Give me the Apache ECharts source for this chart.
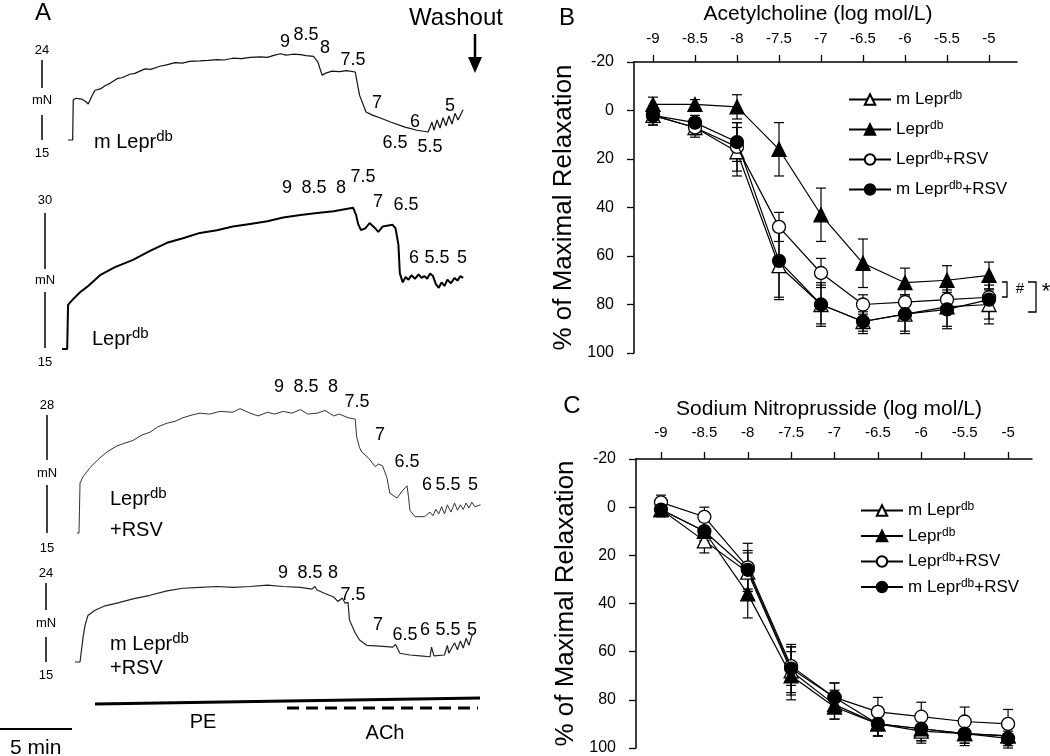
<!DOCTYPE html>
<html>
<head>
<meta charset="utf-8">
<script src="https://cdn.jsdelivr.net/npm/echarts@6/dist/echarts.min.js"></script>
<style>html,body{margin:0;padding:0;background:#fff}#c{width:1050px;height:756px}</style>
</head>
<body>
<div id="c"></div>
<script>
// ---------- DATA ----------
const conc = [-9, -8.5, -8, -7.5, -7, -6.5, -6, -5.5, -5];
const seriesNames = ['m Lepr^db', 'Lepr^db', 'Lepr^db+RSV', 'm Lepr^db+RSV'];

// Panel B: acetylcholine (% of maximal relaxation)
const achMLepr        = [2, 7, 17, 64, 80, 87, 84, 81, 80];
const achMLeprErr     = [4, 3, 10, 14, 8, 5, 7, 8, 8];
const achLepr         = [-2.5, -2.5, -1.5, 16, 43, 63, 71, 70, 68];
const achLeprErr      = [3, 2, 5, 11, 11, 10, 6, 6, 5.5];
const achLeprRSV      = [2, 7, 15, 48, 67, 80, 79, 78, 77];
const achLeprRSVErr   = [3, 4, 10, 6, 6, 4, 3, 3, 3];
const achMLeprRSV     = [2, 5, 13, 62, 80, 87, 84, 82, 78];
const achMLeprRSVErr  = [4, 3, 8, 15, 9, 4, 8, 8, 8];

// Panel C: sodium nitroprusside
const snpMLepr        = [1, 14, 27, 68, 82, 90, 93, 94, 95];
const snpMLeprErr     = [3, 5, 8, 10, 6, 5, 5, 5, 5];
const snpLepr         = [1, 10, 36, 70, 83, 90, 92, 94, 95];
const snpLeprErr      = [2, 4, 10, 10, 5, 5, 5, 4, 4];
const snpLeprRSV      = [-2, 4, 25, 66, 79, 85, 87, 89, 90];
const snpLeprRSVErr   = [3, 4, 10, 8, 6, 6, 6, 6, 6];
const snpMLeprRSV     = [1, 10, 26, 67, 79, 90, 92, 94, 96];
const snpMLeprRSVErr  = [2, 4, 8, 10, 6, 5, 5, 4, 3];

// Panel A: tension traces [time (min), tension (mN)]
const traceMLepr = [[0.56,15.0],[0.88,15.0],[0.92,19.5],[1.1,19.7],[1.5,19.6],[1.8,19.3],[1.96,19.05],[2.2,19.9],[2.43,20.6],[2.8,20.75],[3.13,21.1],[3.5,21.4],[3.96,21.9],[4.3,22.0],[4.86,22.4],[5.2,22.5],[5.9,23.0],[6.3,22.95],[6.94,23.3],[7.4,23.45],[7.99,23.7],[8.5,23.65],[9.0,23.85],[9.72,23.9],[10.3,23.95],[10.9,24.05],[11.4,24.0],[12.0,24.2],[12.6,24.15],[13.2,24.3],[13.9,24.35],[14.4,24.3],[14.9,24.55],[15.3,24.7],[15.7,24.55],[16.2,24.65],[16.7,24.6],[17.1,24.5],[17.6,24.4],[17.9,23.8],[18.2,22.3],[18.5,22.55],[18.9,22.75],[19.4,22.7],[19.9,22.8],[20.5,22.65],[20.8,20.05],[21.25,18.15],[21.7,17.8],[22.2,17.5],[23.0,17.0],[23.96,16.45],[24.8,16.1],[25.56,15.9],[25.83,17.0],[25.97,16.1],[26.18,17.25],[26.39,16.35],[26.6,17.5],[26.8,16.6],[27.01,17.7],[27.22,16.8],[27.43,18.0],[27.64,17.25],[27.99,18.4]];
const traceLepr = [[0.14,15.0],[0.5,15.0],[0.56,19.9],[0.83,20.4],[1.39,21.3],[1.88,21.9],[2.78,23.2],[3.82,24.1],[5.07,24.9],[6.25,25.9],[7.43,26.8],[8.54,27.3],[9.72,27.9],[10.9,28.2],[12.0,28.6],[13.2,28.9],[14.4,29.2],[15.5,29.6],[16.7,29.9],[17.85,30.1],[19.0,30.3],[20.35,30.7],[20.56,29.9],[20.7,28.9],[20.9,28.2],[21.2,28.4],[21.5,29.0],[21.9,28.4],[22.1,28.0],[22.4,28.6],[23.1,28.8],[23.3,28.4],[23.5,26.6],[23.6,23.4],[23.8,22.4],[24.0,23.0],[24.2,22.7],[24.4,23.2],[24.65,22.8],[24.9,23.3],[25.1,22.9],[25.3,23.1],[25.5,22.8],[25.7,23.4],[25.9,23.1],[26.1,22.2],[26.3,21.8],[26.5,22.4],[26.7,22.0],[26.9,22.7],[27.15,22.3],[27.4,22.9],[27.6,22.6],[27.8,23.1],[28.0,22.9]];
const traceLeprRSV = [[1.18,15.0],[1.32,15.0],[1.39,20.5],[1.6,21.2],[2.08,22.2],[2.78,23.3],[3.33,24.0],[3.96,24.6],[4.5,24.9],[5.07,25.2],[5.7,25.8],[6.25,26.1],[6.8,26.7],[7.43,27.1],[7.99,27.3],[8.54,27.7],[9.17,28.0],[9.72,28.2],[10.4,28.1],[11.1,28.4],[12.0,28.3],[12.5,28.7],[13.2,28.2],[13.75,27.9],[14.4,28.3],[14.9,28.1],[15.5,28.4],[16.1,28.2],[16.7,28.6],[17.2,28.1],[17.85,28.2],[18.4,28.5],[19.0,27.9],[19.4,28.1],[20.0,27.7],[20.5,27.55],[20.6,25.6],[20.8,24.4],[20.97,23.9],[21.4,23.3],[21.9,22.3],[22.1,22.6],[22.2,22.8],[22.4,22.4],[22.7,21.1],[22.9,19.4],[23.4,18.85],[23.8,19.7],[24.1,20.2],[24.2,19.0],[24.3,17.5],[24.65,16.8],[25.3,16.8],[25.7,17.3],[25.9,16.9],[26.1,17.6],[26.3,17.1],[26.5,17.9],[26.7,17.1],[26.9,18.1],[27.15,17.3],[27.4,18.3],[27.6,17.5],[27.8,18.1],[28.0,17.6],[28.2,18.3],[28.4,17.75],[28.6,18.4],[28.8,17.9],[29.2,18.1]];
const traceMLeprRSV = [[1.04,15.0],[1.39,15.0],[1.6,17.8],[1.74,19.2],[1.94,20.3],[2.43,20.9],[3.13,21.4],[3.96,21.7],[5.07,22.2],[6.25,22.6],[7.43,23.1],[8.54,23.4],[9.72,23.5],[10.9,23.6],[12.0,23.5],[13.2,23.6],[14.4,23.75],[15.5,23.6],[16.7,23.5],[17.5,23.3],[17.7,23.6],[17.85,23.2],[18.4,22.8],[19.0,22.4],[19.3,21.9],[19.6,22.3],[19.8,21.7],[20.0,21.8],[20.1,19.8],[20.5,18.3],[20.8,17.5],[21.3,16.9],[22.2,16.8],[23.1,16.7],[23.3,17.0],[23.6,16.0],[24.3,15.8],[25.0,15.7],[25.7,15.6],[25.8,16.7],[25.97,15.7],[26.7,15.8],[26.9,16.9],[27.0,16.0],[27.4,17.2],[27.6,16.4],[27.8,17.4],[28.0,16.6],[28.2,17.7],[28.4,16.9],[28.6,18.0],[28.8,18.3]];

// ---------- CHART ----------
const FONT = "'Liberation Sans', Arial, sans-serif";
const NARROW = "'Liberation Sans Narrow', 'Arial Narrow', 'Liberation Sans', sans-serif";
const chart = echarts.init(document.getElementById('c'), null, {renderer: 'canvas'});

const styles = [
  {symbol: 'triangle', filled: false, size: 14},
  {symbol: 'triangle', filled: true, size: 14},
  {symbol: 'circle', filled: false, size: 13},
  {symbol: 'circle', filled: true, size: 13}
];

function pairs(vals) { return conc.map((x, i) => [x, vals[i]]); }
function triples(vals, errs) { return conc.map((x, i) => [x, vals[i], errs[i]]); }

function errRender(params, api) {
  const x = api.value(0), y = api.value(1), e = api.value(2);
  const a = api.coord([x, y - e]), b = api.coord([x, y + e]);
  const hw = 5, st = {stroke: '#000', lineWidth: 1.2};
  return {type: 'group', children: [
    {type: 'line', shape: {x1: a[0], y1: a[1], x2: b[0], y2: b[1]}, style: st},
    {type: 'line', shape: {x1: a[0] - hw, y1: a[1], x2: a[0] + hw, y2: a[1]}, style: st},
    {type: 'line', shape: {x1: b[0] - hw, y1: b[1], x2: b[0] + hw, y2: b[1]}, style: st}
  ]};
}

const series = [];
function addPanel(gridIdx, valsList, errsList) {
  valsList.forEach((vals, k) => {
    series.push({type: 'custom', xAxisIndex: gridIdx, yAxisIndex: gridIdx, data: triples(vals, errsList[k]),
      renderItem: errRender, encode: {x: 0, y: 1}, z: 2, silent: true});
  });
  valsList.forEach((vals, k) => {
    const s = styles[k];
    series.push({type: 'line', name: seriesNames[k], xAxisIndex: gridIdx, yAxisIndex: gridIdx,
      data: pairs(vals), symbol: s.symbol, symbolSize: s.size, showSymbol: true,
      itemStyle: {color: s.filled ? '#000' : '#fff', borderColor: '#000', borderWidth: 1.3},
      lineStyle: {color: '#000', width: 1.2}, z: 3 + k, silent: true});
  });
}
addPanel(0, [achMLepr, achLepr, achLeprRSV, achMLeprRSV], [achMLeprErr, achLeprErr, achLeprRSVErr, achMLeprRSVErr]);
addPanel(1, [snpMLepr, snpLepr, snpLeprRSV, snpMLeprRSV], [snpMLeprErr, snpLeprErr, snpLeprRSVErr, snpMLeprRSVErr]);

const traces = [traceMLepr, traceLepr, traceLeprRSV, traceMLeprRSV];
const traceWidths = [1.2, 2, 1, 1.2];
const traceColors = ['#111', '#000', '#333', '#222'];
traces.forEach((tr, k) => {
  series.push({type: 'line', xAxisIndex: 2 + k, yAxisIndex: 2 + k, data: tr, symbol: 'none',
    lineStyle: {color: traceColors[k], width: traceWidths[k]}, clip: false, silent: true});
});

function doseX(grid, min, max, margin) {
  return {gridIndex: grid, type: 'value', position: 'top', min: min, max: max,
    axisLine: {show: true, onZero: false, lineStyle: {color: '#000', width: 1.5}},
    axisTick: {show: true, customValues: conc, length: 7, lineStyle: {color: '#000', width: 1.3}},
    axisLabel: {customValues: conc, margin: margin, fontSize: 15, color: '#000', fontFamily: FONT},
    splitLine: {show: false}};
}
function doseY(grid, nameGap) {
  return {gridIndex: grid, type: 'value', inverse: true, min: -20, max: 100, interval: 20,
    axisLine: {show: true, onZero: false, lineStyle: {color: '#000', width: 1.5}},
    axisTick: {show: true, length: 7, lineStyle: {color: '#000', width: 1.3}},
    axisLabel: {margin: 20, fontSize: 16, color: '#000', fontFamily: FONT},
    splitLine: {show: false},
    name: '% of Maximal Relaxation', nameLocation: 'middle', nameGap: nameGap,
    nameTextStyle: {fontSize: 26, color: '#000', fontFamily: FONT}};
}

const traceGrids = [
  {top: 60, height: 80, min: 15, max: 24},
  {top: 214, height: 135, min: 15, max: 30},
  {top: 415, height: 118, min: 15, max: 28},
  {top: 583, height: 79, min: 15, max: 24}
];

const grids = [
  {left: 634, top: 62, width: 383, height: 291},
  {left: 636, top: 459, width: 396, height: 289}
];
const xAxes = [doseX(0, -9.226, -4.667, 16), doseX(1, -9.288, -4.724, 19)];
const yAxes = [doseY(0, 57), doseY(1, 57)];
traceGrids.forEach((g, k) => {
  grids.push({left: 60, width: 430, top: g.top, height: g.height});
  xAxes.push({gridIndex: 2 + k, type: 'value', min: 0, max: 29.86, show: false});
  yAxes.push({gridIndex: 2 + k, type: 'value', min: g.min, max: g.max, show: false});
});

const legendRich = {s: {fontSize: 12, fontFamily: FONT, color: '#000', verticalAlign: 'bottom', padding: [0, 0, 7, 0]}};
function legendFmt(name) { return name.replace('^db', '{s|db}'); }
function makeLegend(left, top, gap) {
  return {orient: 'vertical', left: left, top: top, itemWidth: 42, itemHeight: 13, itemGap: gap,
    data: seriesNames, formatter: legendFmt, selectedMode: false,
    textStyle: {fontSize: 17, color: '#000', fontFamily: FONT, rich: legendRich}};
}

// ---------- annotations ----------
const G = [];
function txt(x, y, text, size, opts) {
  opts = opts || {};
  G.push({type: 'text', x: x, y: y, silent: true, style: Object.assign({text: text, fontSize: size,
    fontFamily: opts.family || FONT, fill: '#000', align: opts.align || 'center',
    verticalAlign: opts.va || 'middle'}, opts.rich ? {rich: opts.rich} : {})});
}
function line(x1, y1, x2, y2, w, dash) {
  G.push({type: 'line', silent: true, shape: {x1: x1, y1: y1, x2: x2, y2: y2},
    style: {stroke: '#000', lineWidth: w, lineDash: dash || null}});
}
const grpRich = {s: {fontSize: 15, fontFamily: FONT, fill: '#000', verticalAlign: 'bottom', padding: [0, 0, 10, 0]},
                 n: {fontSize: 20, fontFamily: FONT, fill: '#000'}};

// panel letters & titles
txt(43, 13, 'A', 24);
txt(567, 18, 'B', 24);
txt(572, 406, 'C', 24);
txt(818, 14, 'Acetylcholine (log mol/L)', 21);
txt(829, 409, 'Sodium Nitroprusside (log mol/L)', 21);

// scale bars for traces
[[42, 50, 60, 88, 100, 115, 140, 153, '24'],
 [45, 200, 213, 269, 280, 292, 348, 362, '30'],
 [47, 405, 415, 460, 473, 485, 533, 548, '28'],
 [46, 573, 583, 610, 623, 637, 662, 675, '24']].forEach(s => {
  txt(s[0], s[1], s[8], 13);
  line(s[0], s[2], s[0], s[3], 1.5);
  txt(s[0], s[4], 'mN', 13);
  line(s[0], s[5], s[0], s[6], 1.5);
  txt(s[0], s[7], '15', 13);
});

// concentration labels on traces
const concLabels = [
  [[285,42,'9'],[306,35,'8.5'],[325,48,'8'],[353,60,'7.5'],[377,103,'7'],[395,143,'6.5'],[415,122,'6'],[430,147,'5.5'],[450,106,'5']],
  [[287,188,'9'],[314,188,'8.5'],[341,188,'8'],[363,177,'7.5'],[378,202,'7'],[406,205,'6.5'],[414,258,'6'],[437,258,'5.5'],[462,258,'5']],
  [[279,387,'9'],[306,387,'8.5'],[333,387,'8'],[357,402,'7.5'],[380,435,'7'],[407,462,'6.5'],[427,485,'6'],[448,485,'5.5'],[473,485,'5']],
  [[283,573,'9'],[310,573,'8.5'],[333,573,'8'],[353,595,'7.5'],[378,625,'7'],[405,635,'6.5'],[425,630,'6'],[448,630,'5.5'],[472,630,'5']]
];
concLabels.forEach(arr => arr.forEach(l => txt(l[0], l[1], l[2], 18, {family: NARROW})));

// group labels
txt(94, 142, '{n|m Lepr}{s|db}', 20, {align: 'left', rich: grpRich});
txt(92, 339, '{n|Lepr}{s|db}', 20, {align: 'left', rich: grpRich});
txt(110, 499, '{n|Lepr}{s|db}', 20, {align: 'left', rich: grpRich});
txt(110, 530, '+RSV', 20, {align: 'left'});
txt(110, 644, '{n|m Lepr}{s|db}', 20, {align: 'left', rich: grpRich});
txt(110, 668, '+RSV', 20, {align: 'left'});

// washout arrow
txt(456, 18, 'Washout', 24);
line(475, 34, 475, 60, 2.5);
G.push({type: 'polygon', silent: true, shape: {points: [[468, 57], [482, 57], [475, 73]]}, style: {fill: '#000'}});

// PE / ACh bars and time scale
line(95, 704, 480, 698, 3);
txt(203, 722, 'PE', 20);
line(287, 708, 478, 708, 3, [12, 7]);
txt(385, 733, 'ACh', 20);
line(0, 729, 72, 729, 2);
txt(10, 748, '5 min', 21, {align: 'left'});

// significance brackets in B
G.push({type: 'polyline', silent: true, shape: {points: [[1002, 282], [1007, 282], [1007, 297], [1002, 297]]}, style: {stroke: '#000', lineWidth: 1.3, fill: null}});
txt(1020, 289, '#', 15);
G.push({type: 'polyline', silent: true, shape: {points: [[1028, 282], [1036, 282], [1036, 312], [1028, 312]]}, style: {stroke: '#000', lineWidth: 1.3, fill: null}});
txt(1046, 292, '*', 22);

chart.setOption({
  backgroundColor: '#fff',
  animation: false,
  grid: grids,
  xAxis: xAxes,
  yAxis: yAxes,
  legend: [makeLegend(843, 85, 12), makeLegend(855, 496, 7.5)],
  series: series,
  graphic: G
});
</script>
</body>
</html>
